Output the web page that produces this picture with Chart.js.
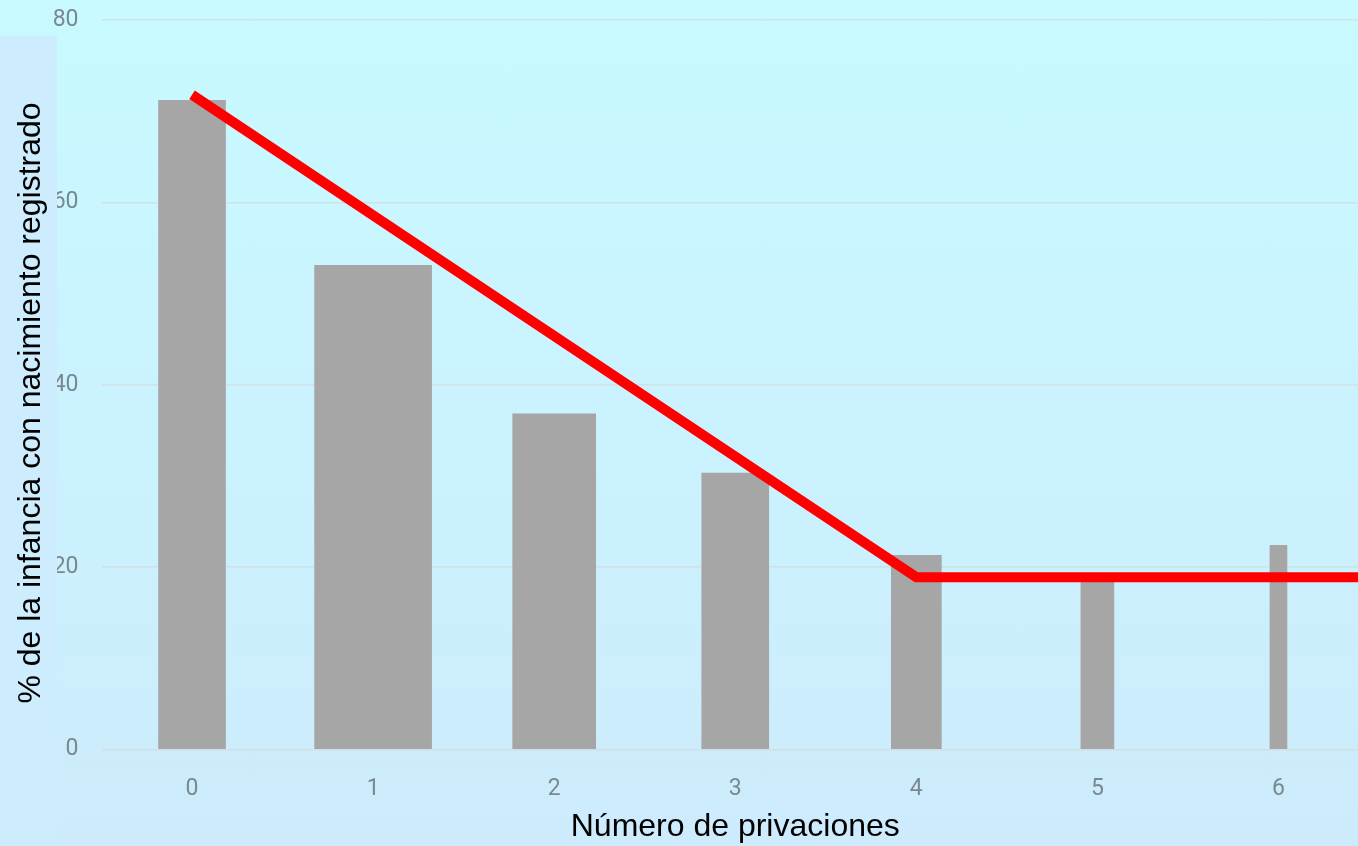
<!DOCTYPE html>
<html lang="es">
<head>
<meta charset="utf-8">
<title>Registro de nacimiento por número de privaciones</title>
<script src="https://cdn.jsdelivr.net/npm/chart.js@4.4.1/dist/chart.umd.min.js"></script>
<style>
  html, body {
    margin: 0;
    padding: 0;
    overflow: hidden;
    width: 1358px;
    height: 846px;
    background: linear-gradient(to bottom, #c8faff 0%, #caf3ff 45%, #cdebfc 100%);
  }
  #wrap {
    position: relative;
    width: 1369px;
    height: 846px;
  }
</style>
</head>
<body>
<div id="wrap"><canvas id="chart"></canvas></div>
<script>
// número de privaciones (eje x)
const categories = ['0', '1', '2', '3', '4', '5', '6'];
// % de la infancia con nacimiento registrado
const barValues = [71.2, 53.1, 36.8, 30.3, 21.3, 18.7, 22.4];
// línea de tendencia: puntos (privaciones, %)
const trendX = [0, 4, 6.5];
const trendY = [71.8, 18.9, 18.9];
const yTicks = [0, 20, 40, 60, 80];

// estilo: ancho de cada barra en px
const barWidths = [67, 117, 83, 67, 50, 33, 17];

const yTitle = '% de la infancia con nacimiento registrado';
const xTitle = 'Número de privaciones';

/* ► franja izquierda + título del eje y encima de las etiquetas */
const sideTitle = {
  id: 'sideTitle',
  afterDraw(chart) {
    const { ctx, height } = chart;
    ctx.save();
    ctx.fillStyle = '#cdecfd';
    ctx.fillRect(0, 36, 57, height - 36);
    ctx.translate(31, 403);
    ctx.rotate(-Math.PI / 2);
    ctx.fillStyle = '#000000';
    ctx.font = '32px "Liberation Sans", Arial, sans-serif';
    ctx.textAlign = 'center';
    ctx.textBaseline = 'middle';
    ctx.fillText(yTitle, 0, 0);
    ctx.restore();
  }
};

const barSets = categories.map((c, i) => ({
  type: 'bar',
  label: c,
  data: barValues.map((v, j) => (j === i ? v : null)),
  backgroundColor: '#a6a6a6',
  borderWidth: 0,
  barThickness: barWidths[i],
  grouped: false,
  order: 1
}));

const trendSet = {
  type: 'line',
  label: 'tendencia',
  xAxisID: 'xTrend',
  data: trendX.map((x, i) => ({ x: x, y: trendY[i] })),
  borderColor: '#ff0000',
  borderWidth: 10,
  pointRadius: 0,
  tension: 0,
  fill: false,
  clip: false,
  order: 0
};

const tickFont = { family: 'Roboto, "Noto Sans", sans-serif', size: 23 };

new Chart(document.getElementById('chart'), {
  data: {
    labels: categories,
    datasets: [...barSets, trendSet]
  },
  options: {
    responsive: true,
    maintainAspectRatio: false,
    animation: false,
    layout: { padding: { top: 20, right: 0, bottom: 0, left: 0 } },
    plugins: {
      legend: { display: false },
      tooltip: { enabled: false }
    },
    scales: {
      x: {
        type: 'category',
        offset: true,
        grid: { display: false, drawTicks: false },
        border: { display: false },
        ticks: { color: '#7a8990', font: tickFont, padding: 26 },
        title: {
          display: true,
          text: xTitle,
          color: '#000000',
          font: { family: '"Liberation Sans", Arial, sans-serif', size: 32 },
          padding: { top: 0, bottom: 0 }
        },
        afterFit(scale) { scale.height = 96.5; }
      },
      xTrend: {
        type: 'linear',
        display: false,
        min: -0.5,
        max: categories.length - 0.5
      },
      y: {
        min: yTicks[0],
        max: yTicks[yTicks.length - 1],
        afterBuildTicks(scale) { scale.ticks = yTicks.map(v => ({ value: v })); },
        grid: {
          color: 'rgba(214,214,214,0.6)',
          lineWidth: 1.5,
          drawTicks: true,
          tickLength: 23,
          tickColor: 'rgba(0,0,0,0)'
        },
        border: { display: false },
        ticks: { color: '#7a8990', font: tickFont, padding: 0 },
        afterFit(scale) { scale.width = 101.5; }
      }
    }
  },
  plugins: [sideTitle]
});
</script>
</body>
</html>
